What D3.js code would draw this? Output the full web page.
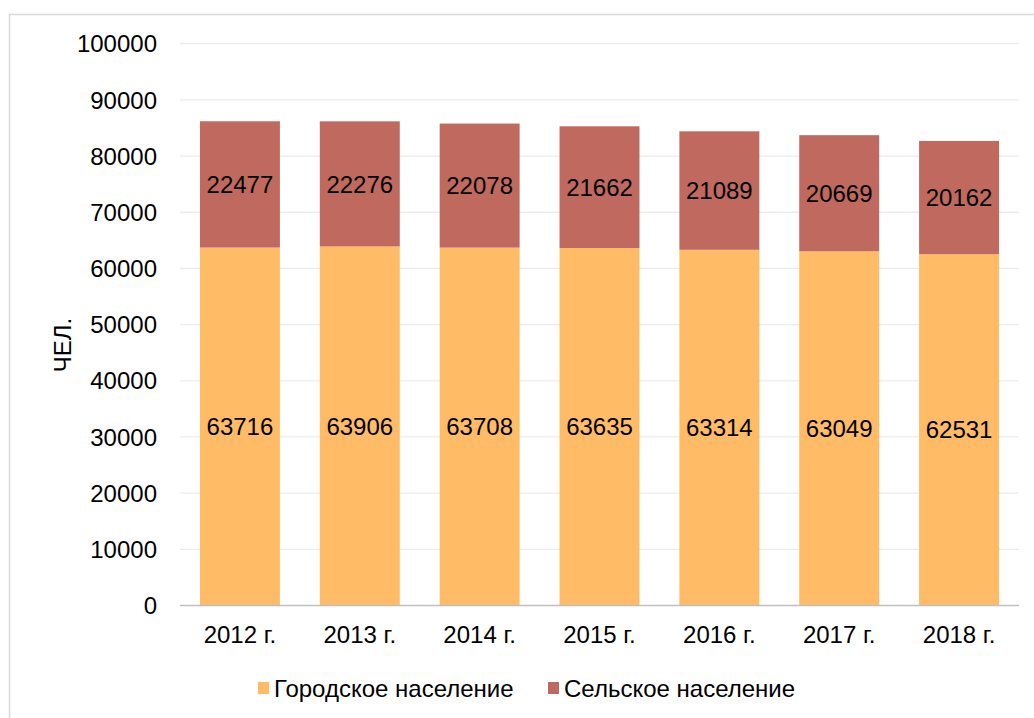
<!doctype html>
<html>
<head>
  <meta charset="utf-8">
  <script src="https://cdnjs.cloudflare.com/ajax/libs/d3/7.8.5/d3.min.js"></script>
  <style>
    body { margin: 0; background: #fff; }
    svg { font-family: "Liberation Sans", Arial, sans-serif; }
  </style>
</head>
<body>
  <svg id="chart" width="1034" height="718"></svg>
  <script>
    // data
    var years = ["2012 г.", "2013 г.", "2014 г.", "2015 г.", "2016 г.", "2017 г.", "2018 г."];
    var urban = [63716, 63906, 63708, 63635, 63314, 63049, 62531];
    var rural = [22477, 22276, 22078, 21662, 21089, 20669, 20162];
    var seriesNames = ["Городское население", "Сельское население"];
    var seriesColors = ["#ffbb66", "#c0695e"];
    var yTicks = d3.range(0, 100001, 10000);

    var svg = d3.select("#chart");

    // outer frame (runs off the right and bottom edges)
    svg.append("path")
      .attr("d", "M9.5,1040 V14.5 H1040")
      .attr("fill", "none")
      .attr("stroke", "#d9d9d9")
      .attr("stroke-width", 1.5);

    var x = d3.scaleBand().domain(years).range([180, 1019]).paddingInner(0.333).paddingOuter(0.1665);
    var y = d3.scaleLinear().domain([0, 100000]).range([605.5, 43.7]);

    // grid
    svg.append("g")
      .selectAll("line")
      .data(yTicks.filter(d => d > 0))
      .enter()
      .append("line")
      .attr("x1", 180).attr("x2", 1019)
      .attr("y1", d => y(d)).attr("y2", d => y(d))
      .attr("stroke", "#ececec")
      .attr("stroke-width", 1.3);

    var stack = d3.stack().keys([0, 1]).value((d, k) => d[k]);
    var rows = years.map((yr, i) => [urban[i], rural[i]]);
    var layers = stack(rows);

    layers.forEach(function (layer, li) {
      svg.append("g")
        .selectAll("rect")
        .data(layer)
        .enter()
        .append("rect")
        .attr("x", (d, i) => x(years[i]))
        .attr("width", x.bandwidth())
        .attr("y", d => y(d[1]))
        .attr("height", d => y(d[0]) - y(d[1]))
        .attr("fill", seriesColors[li]);

      svg.append("g")
        .selectAll("text")
        .data(layer)
        .enter()
        .append("text")
        .attr("x", (d, i) => x(years[i]) + x.bandwidth() / 2)
        .attr("y", d => y((d[0] + d[1]) / 2))
        .attr("dy", "0.36em")
        .attr("text-anchor", "middle")
        .attr("font-size", 24)
        .attr("fill", "#000")
        .text((d, i) => li === 0 ? urban[i] : rural[i]);
    });

    // x axis line
    svg.append("line")
      .attr("x1", 180).attr("x2", 1019)
      .attr("y1", y(0)).attr("y2", y(0))
      .attr("stroke", "#bfbfbf")
      .attr("stroke-width", 1.5);

    // y tick labels
    svg.append("g")
      .selectAll("text")
      .data(yTicks)
      .enter()
      .append("text")
      .attr("x", 157)
      .attr("y", d => y(d))
      .attr("dy", "0.36em")
      .attr("text-anchor", "end")
      .attr("font-size", 24)
      .text(d => d);

    // x tick labels
    svg.append("g")
      .selectAll("text")
      .data(years)
      .enter()
      .append("text")
      .attr("x", d => x(d) + x.bandwidth() / 2)
      .attr("y", 634)
      .attr("dy", "0.36em")
      .attr("text-anchor", "middle")
      .attr("font-size", 24)
      .text(d => d);

    // y axis title
    svg.append("text")
      .attr("transform", "translate(62,345) rotate(-90)")
      .attr("text-anchor", "middle")
      .attr("dy", "0.36em")
      .attr("font-size", 24)
      .text("ЧЕЛ.");

    // legend
    var legendX = [258, 548];
    var legend = svg.append("g")
      .selectAll("g")
      .data(seriesNames)
      .enter()
      .append("g")
      .attr("transform", (d, i) => "translate(" + legendX[i] + ",688)");
    legend.append("rect")
      .attr("x", 0).attr("y", -6)
      .attr("width", 11).attr("height", 12)
      .attr("fill", (d, i) => seriesColors[i]);
    legend.append("text")
      .attr("x", 16)
      .attr("dy", "0.36em")
      .attr("font-size", 24)
      .text(d => d);
  </script>
</body>
</html>
